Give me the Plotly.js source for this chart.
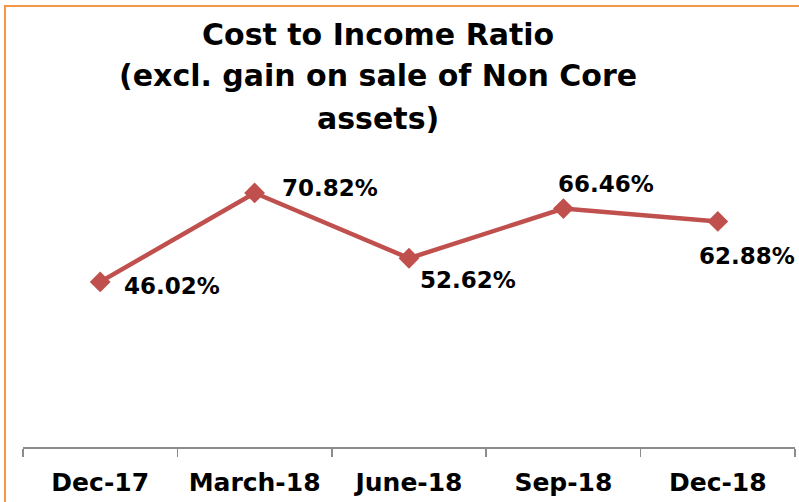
<!DOCTYPE html>
<html>
<head>
<meta charset="utf-8">
<script src="https://cdn.plot.ly/plotly-3.0.1.min.js"></script>
<style>
  html, body { margin: 0; padding: 0; background: #fff; }
  #marco {
    position: absolute; left: 4px; top: 5px; width: 900px; height: 600px;
    border-left: 2px solid #f79646; border-top: 2px solid #f79646;
  }
  #grafica { position: absolute; left: 0; top: 0; width: 799px; height: 502px; }
</style>
</head>
<body>
<div id="marco"></div>
<div id="grafica"></div>
<script>
const periodos = ['Dec-17', 'March-18', 'June-18', 'Sep-18', 'Dec-18'];
const ratios = [46.02, 70.82, 52.62, 66.46, 62.88];
const lineasTitulo = ['Cost to Income Ratio', '(excl. gain on sale of Non Core', 'assets)'];

// desplazamiento de cada etiqueta respecto a su punto (px)
const etiquetaDx = [72, 75, 59, 43, 29];
const etiquetaDy = [4, -5, 22, -25, 35];
// altura (px desde arriba) de cada linea del titulo
const tituloY = [34, 76, 118];

const fuente = 'DejaVu Sans, Arial, sans-serif';
const margen = { l: 23, r: 4, t: 160, b: 55 };
const altoArea = 502 - margen.t - margen.b;

const traza = {
  x: periodos,
  y: ratios,
  type: 'scatter',
  mode: 'lines+markers',
  line: { color: '#c0504d', width: 4.5 },
  marker: { symbol: 'diamond', size: 16, color: '#c0504d' },
  hoverinfo: 'skip'
};

const anotaciones = periodos.map((p, i) => ({
  x: p,
  y: ratios[i],
  text: '<b>' + ratios[i].toFixed(2) + '%</b>',
  showarrow: false,
  xanchor: 'center',
  yanchor: 'middle',
  xshift: etiquetaDx[i],
  yshift: -etiquetaDy[i],
  font: { family: fuente, size: 23, color: '#000' }
}));

// titulo: una anotacion por linea
lineasTitulo.forEach((t, i) => {
  anotaciones.push({
    xref: 'paper',
    yref: 'paper',
    x: 0.46,
    y: (502 - margen.b - tituloY[i]) / altoArea,
    xanchor: 'center',
    yanchor: 'middle',
    showarrow: false,
    text: '<b>' + t + '</b>',
    font: { family: fuente, size: 30, color: '#000' }
  });
});

const layout = {
  width: 799,
  height: 502,
  margin: margen,
  paper_bgcolor: 'rgba(0,0,0,0)',
  plot_bgcolor: 'rgba(0,0,0,0)',
  showlegend: false,
  xaxis: {
    type: 'category',
    range: [-0.5, 4.5],
    showline: true,
    linecolor: '#8c8c8c',
    linewidth: 1.5,
    ticks: 'outside',
    tickson: 'boundaries',
    ticklen: 8,
    tickwidth: 1.5,
    tickcolor: '#8c8c8c',
    ticklabelstandoff: 12,
    showgrid: false,
    zeroline: false,
    tickfont: { family: fuente, size: 25, color: '#000', weight: 'bold' }
  },
  yaxis: {
    range: [0, 80],
    visible: false,
    showgrid: false,
    zeroline: false
  },
  annotations: anotaciones
};

Plotly.newPlot('grafica', [traza], layout, { displayModeBar: false, staticPlot: true });
</script>
</body>
</html>
